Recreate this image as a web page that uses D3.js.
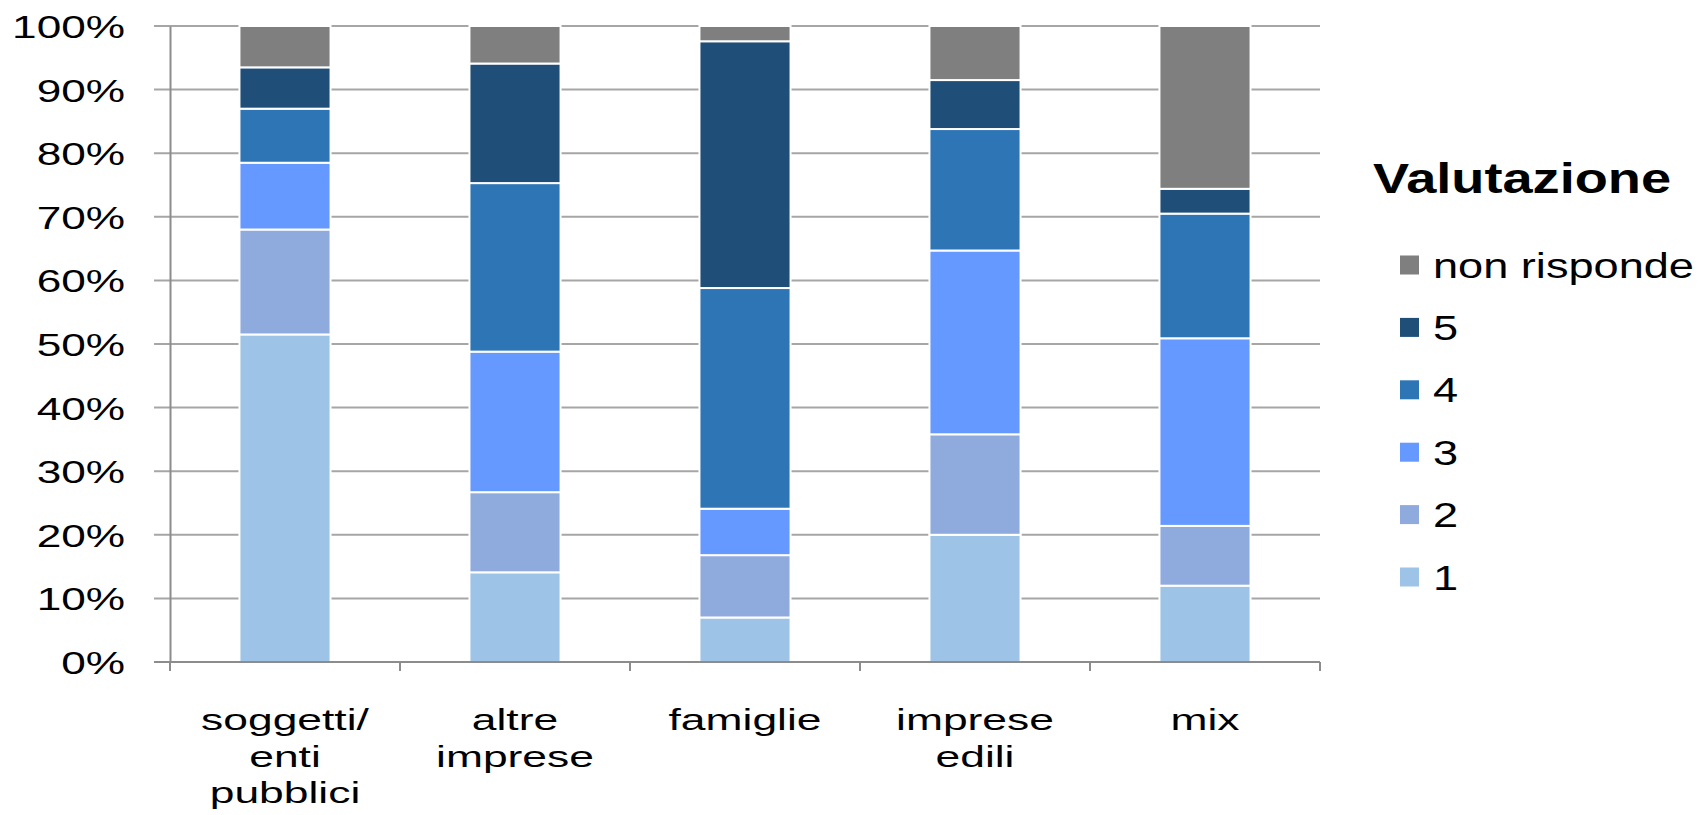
<!DOCTYPE html>
<html>
<head>
<meta charset="utf-8">
<script src="https://cdnjs.cloudflare.com/ajax/libs/d3/7.8.5/d3.min.js"></script>
<style>
    body { margin: 0; background: #fff; }
    text { font-family: "Liberation Sans", Arial, sans-serif; fill: #000; }
</style>
</head>
<body>
<svg id="chart" width="1698" height="815"></svg>
<script>

// DATA
var categories = ["soggetti/ enti pubblici", "altre imprese", "famiglie", "imprese edili", "mix"];
var categoryLines = [["soggetti/", "enti", "pubblici"], ["altre", "imprese"], ["famiglie"], ["imprese", "edili"], ["mix"]];
var seriesKeys = ["1", "2", "3", "4", "5", "non risponde"];
var val1 = [51.5, 14.1, 7.0, 20.0, 12.0];
var val2 = [16.5, 12.6, 9.8, 15.8, 9.4];
var val3 = [10.5, 22.1, 7.3, 28.9, 29.5];
var val4 = [8.5, 26.5, 34.7, 19.1, 19.6];
var val5 = [6.5, 18.8, 38.8, 7.7, 3.9];
var valNR = [6.5, 5.9, 2.4, 8.5, 25.6];
var yTicks = [0, 0.1, 0.2, 0.3, 0.4, 0.5, 0.6, 0.7, 0.8, 0.9, 1];
var legendTitle = "Valutazione";

var colors = {
    "1": "#9dc3e6",
    "2": "#8faadc",
    "3": "#6699ff",
    "4": "#2e75b6",
    "5": "#1f4e79",
    "non risponde": "#7f7f7f"
};

// build rows for the stack
var rows = [];
for (var i = 0; i < categories.length; i++) {
    rows.push({
        cat: categories[i],
        "1": val1[i], "2": val2[i], "3": val3[i],
        "4": val4[i], "5": val5[i], "non risponde": valNR[i]
    });
}

// LAYOUT
var PLOT_LEFT = 170, PLOT_RIGHT = 1320;
var PLOT_TOP = 26, PLOT_BOTTOM = 662;
var STRETCH = 1.4; // text in the picture is wide

var svg = d3.select("#chart");

var x = d3.scaleBand()
    .domain(categories)
    .range([PLOT_LEFT, PLOT_RIGHT])
    .paddingInner(0.604)
    .paddingOuter(0.302);

var y = d3.scaleLinear()
    .domain([0, 1])
    .range([PLOT_BOTTOM, PLOT_TOP]);

var stack = d3.stack()
    .keys(seriesKeys)
    .offset(d3.stackOffsetExpand);
var stacked = stack(rows);

// gridlines
svg.append("g").selectAll("line")
    .data(yTicks)
    .enter()
    .append("line")
    .attr("x1", PLOT_LEFT - 16)
    .attr("x2", PLOT_RIGHT)
    .attr("y1", function(d){ return y(d); })
    .attr("y2", function(d){ return y(d); })
    .style("stroke", "#a6a6a6")
    .style("stroke-width", 2);

// y axis
var yAxis = svg.append("g")
    .attr("transform", "translate(" + PLOT_LEFT + ",0)")
    .call(d3.axisLeft(y).tickValues(yTicks).tickSize(0).tickFormat(d3.format(".0%")));
yAxis.select(".domain").style("stroke", "#8c8c8c").style("stroke-width", 2);
yAxis.selectAll(".tick text")
    .attr("x", 0)
    .attr("dy", "0.36em")
    .attr("transform", "translate(-45,0) scale(1.38,1)")
    .style("font-size", "32px")
    .style("text-anchor", "end");

// bars
svg.append("g").selectAll("g")
    .data(stacked)
    .enter()
    .append("g")
    .style("fill", function(d){ return colors[d.key]; })
    .selectAll("rect")
    .data(function(d){ return d; })
    .enter()
    .append("rect")
    .attr("x", function(d){ return x(d.data.cat); })
    .attr("width", x.bandwidth())
    .attr("y", function(d){ return y(d[1]); })
    .attr("height", function(d){ return y(d[0]) - y(d[1]); })
    .style("stroke", "#fff")
    .style("stroke-width", 2);

// x axis
var xAxis = svg.append("g")
    .attr("transform", "translate(0," + PLOT_BOTTOM + ")")
    .call(d3.axisBottom(x).tickSize(0).tickFormat(""));
xAxis.select(".domain").remove();
xAxis.append("line")
    .attr("x1", PLOT_LEFT - 16).attr("x2", PLOT_RIGHT)
    .style("stroke", "#8c8c8c").style("stroke-width", 2);
// ticks between categories
var bounds = [PLOT_LEFT];
categories.forEach(function(c){ bounds.push(x(c) + x.bandwidth() / 2 + x.step() / 2); });
xAxis.selectAll(".sep")
    .data(bounds)
    .enter()
    .append("line")
    .attr("x1", function(d){ return d; })
    .attr("x2", function(d){ return d; })
    .attr("y1", 0).attr("y2", 9)
    .style("stroke", "#8c8c8c").style("stroke-width", 2);

// category labels
categories.forEach(function(c, i){
    var cx = x(c) + x.bandwidth() / 2;
    categoryLines[i].forEach(function(line, j){
        svg.append("text")
            .attr("transform", "translate(" + cx + "," + (730 + j * 36.5) + ") scale(1.48,1)")
            .style("font-size", "30px")
            .style("text-anchor", "middle")
            .text(line);
    });
});

// LEGEND
var legendKeys = seriesKeys.slice().reverse();
svg.append("text")
    .attr("transform", "translate(1373,193) scale(1.29,1)")
    .style("font-size", "42px")
    .style("font-weight", "bold")
    .text(legendTitle);

var legend = svg.append("g").selectAll("g")
    .data(legendKeys)
    .enter()
    .append("g")
    .attr("transform", function(d, i){ return "translate(1400," + (265 + i * 62.4) + ")"; });
legend.append("rect")
    .attr("x", 0).attr("y", -9.5)
    .attr("width", 19).attr("height", 19)
    .style("fill", function(d){ return colors[d]; });
legend.append("text")
    .attr("transform", "translate(33,0) scale(1.29,1)")
    .attr("dy", "0.36em")
    .style("font-size", "35px")
    .text(function(d){ return d; });

</script>
</body>
</html>
